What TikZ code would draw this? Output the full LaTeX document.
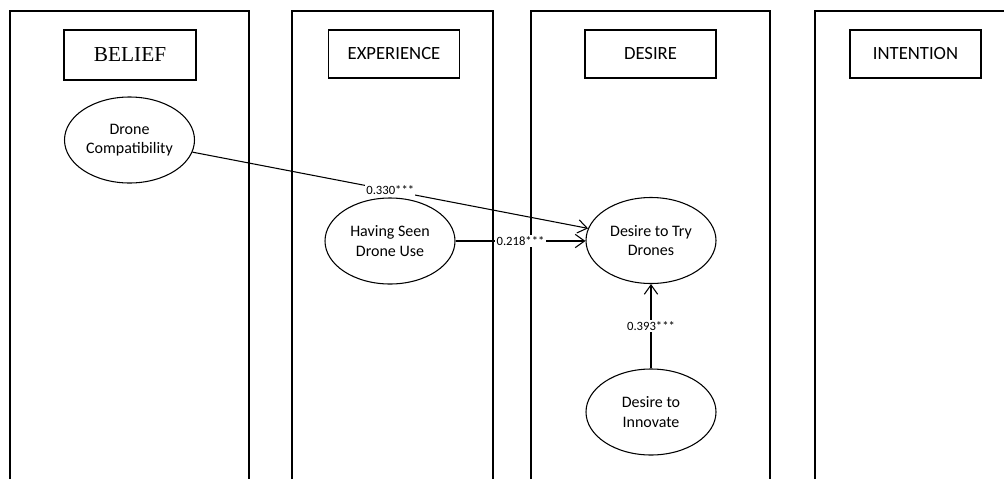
\documentclass[tikz,border=0pt]{standalone}
\usepackage{fontspec}
\setmainfont{Carlito}
\newfontfamily\timesfont{Liberation Serif}
\usetikzlibrary{arrows.meta,shapes.geometric}
\tikzset{
  colline/.style={draw=black,line width=0.8pt},
  titlebox/.style={draw,line width=0.8pt,minimum width=98.25pt,minimum height=36pt,inner sep=0pt,font=\fontsize{14}{16}\selectfont},
  construct/.style={draw,ellipse,line width=0.8pt,minimum width=97.5pt,minimum height=64.5pt,inner sep=0pt,align=center,font=\fontsize{12}{14.4}\selectfont},
  path/.style={draw,line width=0.8pt,-{Straight Barb[length=7pt,width=10pt,line width=0.8pt]}},
  coef/.style={fill=white,inner sep=1pt,font=\fontsize{9.5}{11}\selectfont}
}
\begin{document}
\begin{tikzpicture}[x=0.75pt,y=-0.75pt]
\useasboundingbox[fill=white] (0,0) rectangle (1004,479);
% column frames (open at the bottom)
\draw[colline] (10,479) -- (10,11) -- (249,11) -- (249,479);
\draw[colline] (292,479) -- (292,11) -- (493,11) -- (493,479);
\draw[colline] (531,479) -- (531,11) -- (770,11) -- (770,479);
\draw[colline] (815,479) -- (815,11) -- (1004,11);
% titles
\node[titlebox,minimum width=99pt,minimum height=37.5pt,font=\timesfont\fontsize{16}{18}\selectfont] (belief) at (130,55) {BELIEF};
\node[titlebox] (experience) at (394,54) {EXPERIENCE};
\node[titlebox] (desire) at (650.5,54) {DESIRE};
\node[titlebox] (intention) at (915.5,54) {INTENTION};
% constructs
\node[construct] (compat) at (129.5,140) {Drone\\Compatibility};
\node[construct] (seen) at (390,241) {Having Seen\\Drone Use};
\node[construct] (try) at (651,240.5) {Desire to Try\\Drones};
\node[construct] (innov) at (651,412) {Desire to\\Innovate};
% paths
\draw[path] (compat) -- node[coef] {0.330***} (try);
\draw[path] (seen) -- node[coef] {0.218***} (try.west |- seen);
\draw[path] (innov) -- node[coef] {0.393***} (try);
\end{tikzpicture}
\end{document}
